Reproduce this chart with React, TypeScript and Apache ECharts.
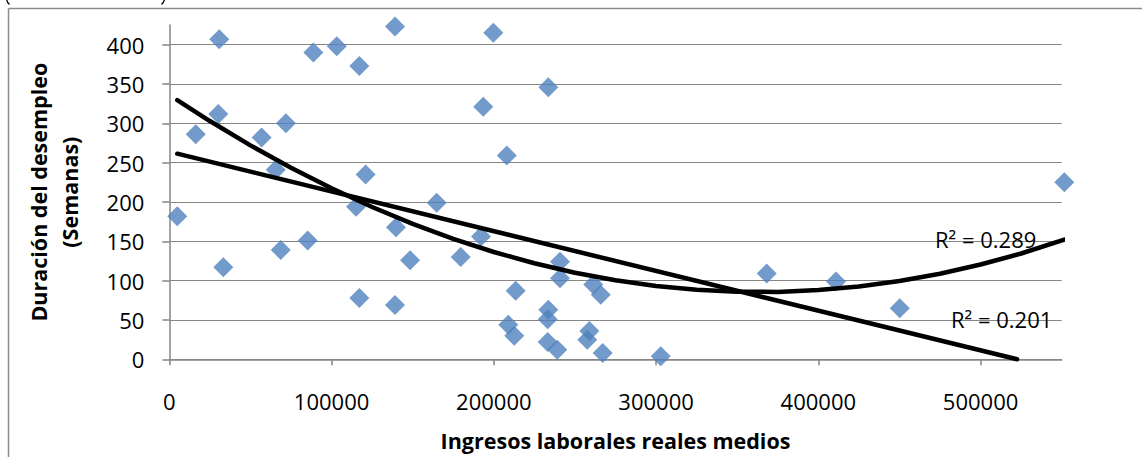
import { useEffect, useRef } from "react";
import * as echarts from "echarts";

// Ingresos laborales reales medios (x) and Duración del desempleo en semanas (y)
const incomes = [
  4900, 16300, 30800, 30200, 33300, 56900, 65600, 68700, 71900, 85300,
  88800, 103200, 115100, 117100, 117100, 121000, 139100, 139700, 139100, 148400,
  164800, 179600, 192100, 193500, 199700, 208000, 208900, 212600, 213500, 233200,
  233600, 233200, 233600, 239100, 240800, 240800, 257600, 258900, 261300, 265900,
  267100, 302900, 368200, 410900, 450200, 551600,
];
const weeks = [
  182, 286, 407, 312, 117, 282, 241, 139, 300, 151,
  390, 398, 194, 373, 78, 235, 423, 168, 69, 126,
  199, 130, 156, 321, 415, 259, 44, 30, 87, 51,
  63, 22, 346, 12, 124, 103, 25, 36, 95, 82,
  8, 4, 109, 99, 65, 225,
];
// Trend lines
const linearTrendX = [4900, 522500];
const linearTrendY = [261.4, 0];
const polyTrendX = [
  4900, 25000, 50000, 75000, 100000, 125000, 150000, 175000, 200000, 225000, 250000, 275000,
  300000, 325000, 350000, 375000, 400000, 425000, 450000, 475000, 500000, 525000, 551600,
];
const polyTrendY = [
  329.5, 302.9, 272, 243.5, 217.4, 193.6, 172.1, 153.1, 136.4, 122.1, 110.1, 100.5,
  93.2, 88.4, 85.9, 85.7, 88, 92.5, 99.5, 108.8, 120.5, 134.5, 152.1,
];
const xTicks = [0, 100000, 200000, 300000, 400000, 500000];
const yTicks = [0, 50, 100, 150, 200, 250, 300, 350, 400];
const r2Labels = ["R² = 0.289", "R² = 0.201"];
const xTitle = "Ingresos laborales reales medios";
const yTitle = "Duración del desempleo\n(Semanas)";

export default function App() {
  const ref = useRef<HTMLDivElement>(null);
  useEffect(() => {
    if (!ref.current) return;
    const chart = echarts.init(ref.current, undefined, { renderer: "svg" });
    const gray = "#868686";
    const font = "'Open Sans', sans-serif";
    chart.setOption({
      animation: false,
      backgroundColor: "#ffffff",
      grid: { left: 169.3, right: 80.3, top: 25, bottom: 97.7 },
      xAxis: {
        type: "value",
        min: 0,
        max: 550000,
        interval: 100000,
        axisLine: { show: true, onZero: false, lineStyle: { color: gray, width: 1.5 } },
        axisTick: { show: true, length: 6, customValues: xTicks, lineStyle: { color: gray, width: 1.5 } },
        axisLabel: {
          customValues: xTicks,
          color: "#000",
          fontFamily: font,
          fontSize: 22,
          margin: 31,
          formatter: (v: number) => String(v),
        },
        splitLine: { show: false },
        name: xTitle,
        nameLocation: "middle",
        nameGap: 70,
        nameTextStyle: { color: "#000", fontFamily: font, fontSize: 21.5, fontWeight: "bold" },
      },
      yAxis: {
        type: "value",
        min: 0,
        max: 425,
        interval: 50,
        axisLine: { show: true, onZero: false, lineStyle: { color: gray, width: 1.5 } },
        axisTick: { show: true, length: 7, customValues: yTicks, lineStyle: { color: gray, width: 1.5 } },
        axisLabel: {
          customValues: yTicks,
          color: "#000",
          fontFamily: font,
          fontSize: 22,
          margin: 25,
          formatter: (v: number) => String(v),
        },
        splitLine: { show: true, lineStyle: { color: gray, width: 1.2 } },
        name: yTitle,
        nameLocation: "middle",
        nameGap: 84,
        nameRotate: 90,
        nameTextStyle: {
          color: "#000",
          fontFamily: font,
          fontSize: 21.5,
          fontWeight: "bold",
          lineHeight: 31,
          align: "center",
        },
      },
      series: [
        {
          type: "scatter",
          symbol: "diamond",
          symbolSize: 20,
          clip: false,
          itemStyle: { color: "#4F81BD" },
          data: incomes.map((x, i) => [x, weeks[i]]),
          z: 2,
        },
        {
          type: "line",
          data: linearTrendX.map((x, i) => [x, linearTrendY[i]]),
          showSymbol: false,
          symbol: "none",
          clip: false,
          lineStyle: { color: "#000", width: 4.5, cap: "round" },
          z: 5,
        },
        {
          type: "line",
          data: polyTrendX.map((x, i) => [x, polyTrendY[i]]),
          showSymbol: false,
          symbol: "none",
          clip: false,
          smooth: false,
          lineStyle: { color: "#000", width: 4.5, cap: "round", join: "round" },
          z: 5,
        },
      ],
      graphic: [
        { type: "line", shape: { x1: 8.5, y1: 8.5, x2: 8.5, y2: 460 }, style: { stroke: "#8c8c8c", lineWidth: 1.5 } },
        { type: "line", shape: { x1: 8.5, y1: 8.5, x2: 1145, y2: 8.5 }, style: { stroke: "#8c8c8c", lineWidth: 1.5 } },
        { type: "text", left: 935, top: 228, z: 10, style: { text: r2Labels[0], fill: "#000", font: `22px ${font}` } },
        { type: "text", left: 951, top: 308, z: 10, style: { text: r2Labels[1], fill: "#000", font: `22px ${font}` } },
        {
          type: "bezierCurve",
          shape: { x1: 6.5, y1: -2, cpx1: 6.5, cpy1: 2, x2: 9.5, y2: 4.5 },
          style: { stroke: "#000", lineWidth: 1.3, fill: null },
        },
        {
          type: "bezierCurve",
          shape: { x1: 164.5, y1: -2, cpx1: 164.5, cpy1: 2, x2: 161.5, y2: 4.5 },
          style: { stroke: "#000", lineWidth: 1.3, fill: null },
        },
      ],
    });
    return () => chart.dispose();
  }, []);
  return (
    <div
      ref={ref}
      style={{ position: "fixed", left: 0, top: 0, width: 1142, height: 457, background: "#fff" }}
    />
  );
}
